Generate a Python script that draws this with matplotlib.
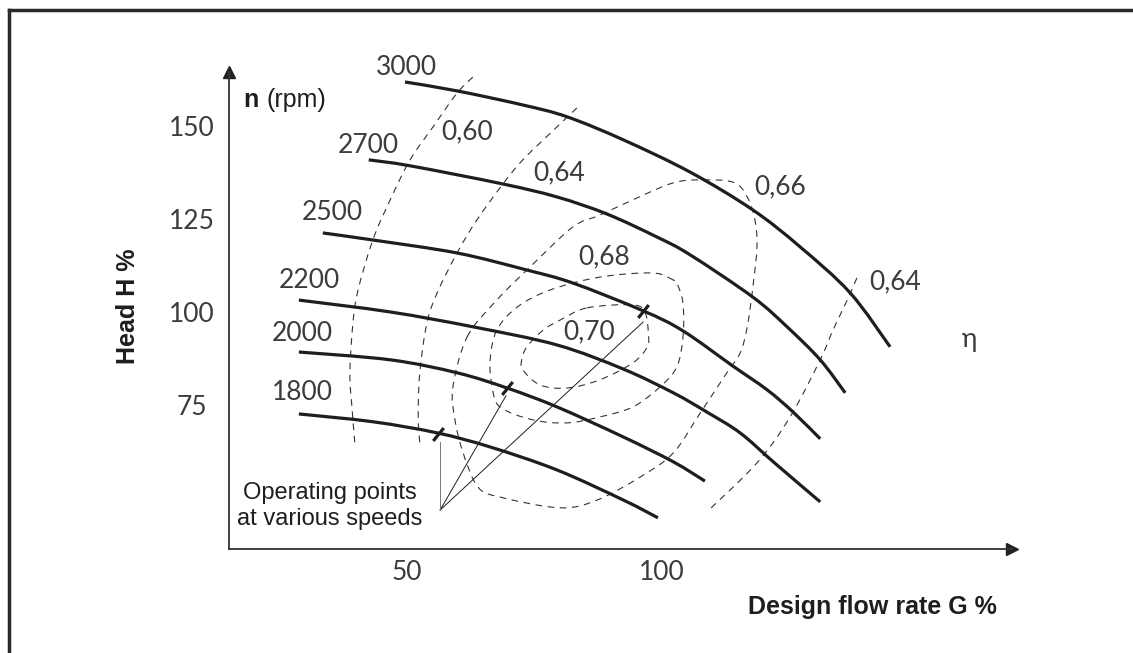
import numpy as np
import matplotlib
matplotlib.use('Agg')
import matplotlib.pyplot as plt
from matplotlib.lines import Line2D
from matplotlib.path import Path
from matplotlib.patches import PathPatch

# pump speed curves (flow G %, head H %)
speed_labels = ['3000', '2700', '2500', '2200', '2000', '1800']
g_3000 = [49.6, 59.8, 72.7, 81.4, 92.4, 105.5, 117.8, 127.1, 136.9, 144.7]
h_3000 = [162.0, 159.6, 155.8, 152.6, 146.4, 137.7, 127.5, 117.5, 105.1, 90.6]
g_2700 = [42.5, 50.6, 68.8, 79.4, 89.2, 99.0, 105.5, 117.8, 124.5, 131.0, 135.9]
h_2700 = [141.0, 139.4, 134.5, 131.0, 126.4, 120.2, 115.4, 104.0, 96.0, 87.1, 78.2]
g_2500 = [33.5, 43.3, 59.8, 73.5, 82.5, 96.3, 104.1, 113.9, 120.6, 125.7, 131.0]
h_2500 = [121.3, 119.4, 115.9, 111.3, 107.8, 100.3, 94.9, 85.4, 79.0, 73.0, 65.8]
g_2200 = [28.8, 46.7, 62.9, 79.4, 92.4, 102.2, 108.8, 115.3, 121.8, 131.0]
h_2200 = [103.2, 100.0, 96.0, 91.1, 84.6, 78.2, 73.0, 67.4, 59.6, 48.8]
g_2000 = [28.8, 46.7, 59.8, 69.6, 79.4, 92.4, 102.2, 108.4]
h_2000 = [89.2, 87.1, 83.6, 79.5, 74.4, 66.3, 59.6, 54.4]
g_1800 = [28.8, 43.3, 55.9, 66.3, 79.4, 92.4, 99.2]
h_1800 = [72.5, 70.4, 67.4, 63.6, 57.4, 49.3, 44.5]

# efficiency contours (dashed)
g_060 = [62.9, 59.8, 55.1, 50.6, 46.7, 43.3, 40.4, 39.4, 38.8, 39.2, 39.8]
h_060 = [163.3, 159.0, 149.9, 141.0, 130.2, 119.4, 105.9, 97.0, 83.6, 74.4, 64.2]
g_064a = [83.3, 79.4, 72.7, 68.8, 63.7, 59.8, 55.9, 53.9, 52.5, 52.2, 52.5]
h_064a = [155.0, 149.9, 141.0, 134.5, 124.8, 115.9, 105.1, 97.0, 83.6, 71.7, 64.7]
g_064b = [138.2, 136.3, 133.5, 131.0, 125.1, 118.6, 108.8]
h_064b = [109.2, 103.2, 95.1, 87.1, 71.7, 59.3, 46.1]
g_066 = [61.8, 67.6, 74.1, 82.5, 87.8, 96.3, 102.2, 106.9, 113.9, 116.7, 118.2, 118.6,
         117.8, 116.7, 115.3, 112.7, 107.5, 102.2, 95.7, 87.3, 80.0, 68.2, 63.9, 61.0,
         59.4, 59.0]
h_066 = [93.3, 103.2, 112.1, 122.9, 126.1, 131.5, 134.8, 135.6, 135.0, 131.0, 124.8, 117.5,
         106.7, 96.0, 88.9, 83.6, 72.8, 62.0, 55.5, 49.3, 47.2, 50.1, 52.8, 62.0,
         70.9, 79.8]
g_068 = [102.2, 98.2, 87.8, 78.0, 71.6, 67.6, 66.3, 66.7, 68.2, 74.7, 81.4, 87.8, 94.3,
         99.6, 102.9, 104.1, 104.1, 102.9]
h_068 = [108.6, 110.5, 109.4, 105.9, 101.3, 95.1, 87.1, 79.8, 74.4, 70.9, 70.1, 71.7, 74.4,
         79.8, 85.2, 93.3, 102.4, 107.8]
g_070 = [85.3, 94.3, 96.7, 97.3, 97.1, 94.3, 87.8, 81.4, 76.1, 72.7, 72.5, 73.5, 76.7, 80.0]
h_070 = [101.1, 101.9, 99.7, 94.3, 90.6, 86.3, 81.7, 79.5, 80.3, 84.4, 87.1, 90.6, 95.1, 97.8]

# operating points on 2500, 2000, 1800 curves
op_g = [96.3, 69.6, 56.1]
op_h = [100.3, 79.5, 67.1]
lead_g = [96.3, 69.4, 56.5]
lead_h = [97.3, 77.4, 65.0]
note_g, note_h = 56.5, 46.6

# label positions
speed_lab_g = [49.8, 42.5, 35.3, 30.8, 29.4, 29.4]
speed_lab_h = [165.8, 145.0, 126.7, 108.6, 94.1, 78.2]
eff_labels = ['0,60', '0,64', '0,66', '0,68', '0,70', '0,64']
eff_lab_g = [61.8, 79.8, 123.1, 88.6, 85.7, 145.7]
eff_lab_h = [148.5, 137.5, 133.7, 114.8, 94.6, 108.1]

x_ticks = [50, 100]
y_ticks = [75, 100, 125, 150]

ink = '#1e1e1e'
num_col = '#3c3c3c'
num_font = dict(family='Lato', color=num_col, fontsize=19)


def smooth_path(g, h, closed=False):
    # Catmull-Rom through the read points, drawn as cubic Bezier segments
    p = np.column_stack([g, h])
    n = len(p)
    verts = [p[0]]
    codes = [Path.MOVETO]
    segs = n if closed else n - 1
    for i in range(segs):
        p1 = p[i]
        p2 = p[(i + 1) % n]
        p0 = p[(i - 1) % n] if (closed or i > 0) else p1
        p3 = p[(i + 2) % n] if (closed or i + 2 < n) else p2
        verts += [p1 + (p2 - p0) / 6, p2 - (p3 - p1) / 6, p2]
        codes += [Path.CURVE4] * 3
    return Path(verts, codes)


fig = plt.figure(figsize=(11.33, 6.53), dpi=100)
ax = fig.add_axes([0.2021, 0.1593, 0.6911, 0.7305])
ax.set_xlim(15.1, 168.6)
ax.set_ylim(36.1, 164.7)

for s in ['top', 'right']:
    ax.spines[s].set_visible(False)
for s in ['left', 'bottom']:
    ax.spines[s].set_color('#333333')
    ax.spines[s].set_linewidth(1.3)
ax.plot(1, 0, '>', color='#222222', ms=9, transform=ax.transAxes, clip_on=False)
ax.plot(0, 1, '^', color='#222222', ms=9, transform=ax.transAxes, clip_on=False)

ax.set_xticks(x_ticks)
ax.set_yticks(y_ticks)
ax.set_xticklabels([str(v) for v in x_ticks], fontfamily='Lato', color=num_col, fontsize=19)
ax.set_yticklabels([str(v) for v in y_ticks], fontfamily='Lato', color=num_col, fontsize=19)
ax.tick_params(axis='x', length=0, pad=8)
ax.tick_params(axis='y', length=0, pad=27)
for lab in ax.get_yticklabels():
    lab.set_ha('center')

dash = (0, (6, 5))
for g, h, closed in [(g_060, h_060, False), (g_064a, h_064a, False), (g_064b, h_064b, False),
                     (g_066, h_066, True), (g_068, h_068, True), (g_070, h_070, True)]:
    ax.add_patch(PathPatch(smooth_path(g, h, closed), fill=False, ls=dash, lw=0.8,
                           ec='#333333', clip_on=False))

curves = [(g_3000, h_3000), (g_2700, h_2700), (g_2500, h_2500),
          (g_2200, h_2200), (g_2000, h_2000), (g_1800, h_1800)]
for g, h in curves:
    ax.add_patch(PathPatch(smooth_path(g, h), fill=False, lw=2.3, ec=ink,
                           capstyle='butt', clip_on=False))

for lab, g, h in zip(speed_labels, speed_lab_g, speed_lab_h):
    ax.text(g, h, lab, ha='center', va='center', **num_font)
for lab, g, h in zip(eff_labels, eff_lab_g, eff_lab_h):
    ax.text(g, h, lab, ha='center', va='center', **num_font)
ax.text(160.2, 92.7, 'η', ha='center', va='center', **num_font)

# operating points
ax.plot(op_g, op_h, ls='none', marker=(2, 0, -39), ms=12, mew=2.3, color=ink)
for i, (g, h) in enumerate(zip(lead_g, lead_h)):
    ax.plot([note_g, g], [note_h, h], lw=0.7, color='#777777' if i == 2 else ink)
ax.text(34.9, 47.7, 'Operating points\nat various speeds', ha='center',
        va='center', family='Liberation Sans', fontsize=17, color=ink, linespacing=1.25)

ax.text(17.8, 157.1, 'n', ha='left', va='center', family='Liberation Sans',
        fontweight='bold', fontsize=18, color=ink)
ax.text(22.5, 157.1, '(rpm)', ha='left', va='center', family='Liberation Sans',
        fontsize=18, color=ink)

fig.text(0.113, 0.531, 'Head H %', rotation=90, ha='center', va='center',
         family='Liberation Sans', fontweight='bold', fontsize=18, color=ink)
fig.text(0.7696, 0.0704, 'Design flow rate G %', ha='center', va='center',
         family='Liberation Sans', fontweight='bold', fontsize=18, color=ink)

# outer frame (top and left edges)
fig.add_artist(Line2D([0.008, 1.0], [0.985, 0.985], lw=2.5, color='#2a2a2a'))
fig.add_artist(Line2D([0.008, 0.008], [0.0, 0.985], lw=2.5, color='#2a2a2a'))

fig.savefig('out.png', dpi=100)
